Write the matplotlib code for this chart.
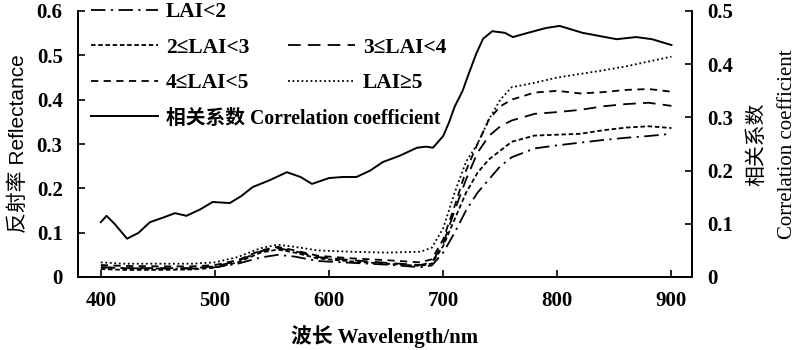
import numpy as np
import matplotlib
matplotlib.use('Agg')
import matplotlib.pyplot as plt

plt.rcParams['font.family'] = ['Liberation Serif', 'Noto Sans CJK SC']

# reflectance spectra by LAI class
wl = [400, 420, 450, 480, 500, 520, 540, 555, 570, 590, 620, 650, 680, 690,
      700, 710, 720, 730, 740, 750, 760, 780, 800, 820, 840, 860, 880, 900]
lai_lt2 = [0.022, 0.020, 0.019, 0.019, 0.022, 0.030, 0.044, 0.050, 0.046, 0.036,
           0.032, 0.028, 0.022, 0.026, 0.055, 0.100, 0.150, 0.190, 0.220, 0.250,
           0.270, 0.290, 0.297, 0.303, 0.309, 0.314, 0.318, 0.323]
lai_2_3 = [0.018, 0.016, 0.016, 0.017, 0.021, 0.033, 0.055, 0.062, 0.055, 0.042,
           0.035, 0.030, 0.025, 0.030, 0.070, 0.130, 0.190, 0.235, 0.265, 0.285,
           0.305, 0.319, 0.321, 0.323, 0.331, 0.337, 0.340, 0.336]
lai_3_4 = [0.022, 0.020, 0.020, 0.020, 0.024, 0.036, 0.058, 0.065, 0.058, 0.045,
           0.038, 0.032, 0.027, 0.033, 0.075, 0.150, 0.220, 0.280, 0.318, 0.340,
           0.353, 0.368, 0.372, 0.377, 0.385, 0.390, 0.393, 0.386]
lai_4_5 = [0.027, 0.025, 0.024, 0.024, 0.027, 0.038, 0.060, 0.068, 0.060, 0.048,
           0.042, 0.038, 0.033, 0.040, 0.085, 0.160, 0.240, 0.300, 0.355, 0.385,
           0.400, 0.416, 0.420, 0.414, 0.417, 0.422, 0.424, 0.418]
lai_ge5 = [0.033, 0.030, 0.030, 0.030, 0.033, 0.045, 0.065, 0.073, 0.068, 0.060,
           0.057, 0.055, 0.057, 0.066, 0.110, 0.190, 0.260, 0.300, 0.355, 0.400,
           0.428, 0.438, 0.450, 0.458, 0.466, 0.475, 0.486, 0.497]

# correlation coefficient
wl_r = [400, 405, 412, 423, 433, 443, 455, 465, 475, 487, 498, 513, 523, 533,
        548, 563, 575, 585, 600, 612, 624, 636, 647, 662, 677, 685, 691, 700,
        705, 710, 717, 722, 729, 735, 743, 754, 761, 776, 790, 802, 822, 837,
        852, 869, 883, 900]
corr = [0.103, 0.115, 0.100, 0.072, 0.083, 0.103, 0.112, 0.120, 0.115, 0.127,
        0.141, 0.139, 0.152, 0.169, 0.182, 0.197, 0.188, 0.175, 0.186, 0.188,
        0.188, 0.200, 0.216, 0.228, 0.243, 0.245, 0.243, 0.265, 0.290, 0.320,
        0.350, 0.380, 0.420, 0.448, 0.462, 0.459, 0.451, 0.460, 0.468, 0.472,
        0.459, 0.453, 0.447, 0.451, 0.447, 0.436]

labels = ['LAI<2', '2≤LAI<3', '3≤LAI<4', '4≤LAI<5', 'LAI≥5',
          '相关系数 Correlation coefficient']
styles = [(0, (8, 3, 1.2, 3)), (0, (2.5, 1.5)), (0, (7, 4)), (0, (4, 3)),
          (0, (1, 1.5)), '-']

fig = plt.figure(figsize=(7.98, 3.5), dpi=100)
ax = fig.add_axes([78 / 798, 1 - 277 / 350, 614 / 798, 266 / 350])
ax2 = ax.twinx()

series = [lai_lt2, lai_2_3, lai_3_4, lai_4_5, lai_ge5]
handles = []
for s, ls, lab in zip(series, styles[:5], labels[:5]):
    h, = ax.plot(wl, s, color='black', lw=1.3, linestyle=ls, label=lab)
    handles.append(h)
hc, = ax2.plot(wl_r, corr, color='black', lw=1.4, linestyle='-', label=labels[5])
handles.append(hc)

ax.set_xlim(380, 918)
ax.set_ylim(0, 0.6)
ax2.set_ylim(0, 0.5)
ax.set_xticks([400, 500, 600, 700, 800, 900])
ax.set_yticks([0, 0.1, 0.2, 0.3, 0.4, 0.5, 0.6])
ax.set_yticklabels(['0', '0.1', '0.2', '0.3', '0.4', '0.5', '0.6'])
ax2.set_yticks([0, 0.1, 0.2, 0.3, 0.4, 0.5])
ax2.set_yticklabels(['0', '0.1', '0.2', '0.3', '0.4', '0.5'])

for a in (ax, ax2):
    a.spines['top'].set_visible(False)
    for sp in a.spines.values():
        sp.set_linewidth(1.3)
ax.tick_params(axis='x', direction='in', length=5, width=1.2, labelsize=15, pad=10)
ax.tick_params(axis='y', direction='in', length=5, width=1.2, labelsize=15, pad=11)
ax2.tick_params(axis='y', direction='in', length=5, width=1.2, labelsize=15, pad=11)
for t in ax.get_xticklabels() + ax.get_yticklabels() + ax2.get_yticklabels():
    t.set_fontweight('bold')

ax.set_xlabel('波长 Wavelength/nm', fontsize=15, fontweight='bold', labelpad=10)
ax.set_ylabel('反射率 Reflectance', fontsize=15,
              family=['Liberation Sans', 'Noto Sans CJK SC'], labelpad=6)
ax2.set_ylabel('相关系数\nCorrelation coefficient', fontsize=15, labelpad=10,
               linespacing=1.8)

leg_kw = dict(frameon=False, loc='upper left', borderpad=0, borderaxespad=0,
              handlelength=3.1, handletextpad=0.37, labelspacing=0.72,
              prop={'size': 15.5, 'weight': 'bold'})
leg1 = fig.legend([handles[0], handles[1], handles[3], handles[5]],
                  [labels[0], labels[1], labels[3], labels[5]],
                  bbox_to_anchor=(91 / 798, 1 - 2 / 350), **leg_kw)
leg1.get_texts()[3].set_fontsize(14.2)
leg2 = fig.legend([handles[2], handles[4]], [labels[2], labels[4]],
                  bbox_to_anchor=(288 / 798, 1 - 37.5 / 350), **leg_kw)

fig.savefig('out.png', dpi=100)
